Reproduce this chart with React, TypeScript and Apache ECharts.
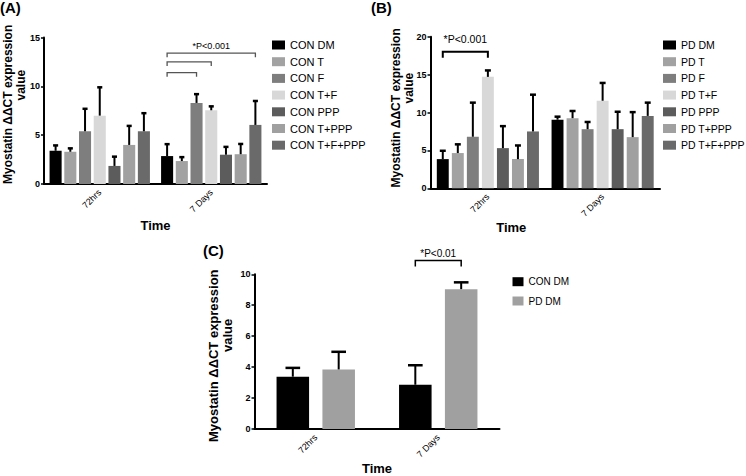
import React, { useEffect, useRef } from "react";
import * as echarts from "echarts";

const categories = ["72hrs", "7 Days"];

const namesA = ["CON DM", "CON T", "CON F", "CON T+F", "CON PPP", "CON T+PPP", "CON T+F+PPP"];
const meanA = [
  [3.4, 2.86],
  [3.3, 2.35],
  [5.4, 8.3],
  [7.0, 7.55],
  [1.85, 3.0],
  [4.0, 3.05],
  [5.4, 6.05],
];
const semA = [
  [0.55, 1.22],
  [0.35, 0.4],
  [2.3, 0.9],
  [2.9, 0.4],
  [0.95, 0.8],
  [1.95, 1.05],
  [1.85, 2.45],
];

const namesB = ["PD DM", "PD T", "PD F", "PD T+F", "PD PPP", "PD T+PPP", "PD T+F+PPP"];
const meanB = [
  [3.85, 9.05],
  [4.65, 9.25],
  [6.8, 7.8],
  [14.7, 11.55],
  [5.3, 7.8],
  [3.85, 6.75],
  [7.5, 9.55],
];
const semB = [
  [1.1, 0.4],
  [1.15, 0.95],
  [4.5, 0.95],
  [0.85, 2.35],
  [2.9, 2.3],
  [1.8, 3.3],
  [4.85, 1.75],
];

const namesC = ["CON DM", "PD DM"];
const meanC = [
  [3.38, 2.86],
  [3.85, 9.04],
];
const semC = [
  [0.57, 1.26],
  [1.14, 0.44],
];

const bracketsA = [
  { cat: 1, from: 0, to: 2, level: 11.4, label: "" },
  { cat: 1, from: 0, to: 3, level: 12.5, label: "" },
  { cat: 1, from: 0, to: 6, level: 13.4, label: "*P<0.001" },
];
const bracketsB = [{ cat: 0, from: 0, to: 3, level: 18.0, label: "*P<0.001" }];
const bracketsC = [{ cat: 1, from: 0, to: 1, level: 10.9, label: "*P<0.01" }];

const yMaxA = 15, yIntA = 5;
const yMaxB = 20, yIntB = 5;
const yMaxC = 10, yIntC = 2;

const yTitleLine1 = "Myostatin \u0394\u0394CT expression";
const yTitleLine2 = "value";

const greys7 = ["#000000", "#a2a2a2", "#7e7e7e", "#d8d8d8", "#5c5c5c", "#a0a0a0", "#6a6a6a"];
const greysC = ["#000000", "#a0a0a0"];

const FONT = "Liberation Sans, Arial, Helvetica, sans-serif";

type Layout = { catGap: number; gap: number; n: number };
const layA: Layout = { catGap: 0.1, gap: 0.22, n: 7 };
const layB: Layout = { catGap: 0.11, gap: 0.26, n: 7 };
const layC: Layout = { catGap: 0.36, gap: 0.41, n: 2 };

function barPos(api: any, cat: number, idx: number, lay: Layout) {
  const band = api.size([1, 0])[0];
  const bw = (band * (1 - lay.catGap)) / (lay.n + (lay.n - 1) * lay.gap);
  const total = lay.n * bw + (lay.n - 1) * lay.gap * bw;
  const c = api.coord([cat, 0])[0];
  return { x: c - total / 2 + bw / 2 + idx * bw * (1 + lay.gap), bw };
}

function errorSeries(axis: number, means: number[][], sems: number[][], lay: Layout, capFrac: number, lw: number) {
  const data: number[][] = [];
  means.forEach((row, i) =>
    row.forEach((m, j) => {
      data.push([j, m, m + sems[i][j], i]);
    })
  );
  return {
    type: "custom",
    xAxisIndex: axis,
    yAxisIndex: axis,
    z: 5,
    silent: true,
    data,
    encode: { x: 0, y: [1, 2] },
    renderItem: (params: any, api: any) => {
      const cat = api.value(0);
      const m = api.value(1);
      const top = api.value(2);
      const idx = api.value(3);
      const { x, bw } = barPos(api, cat, idx, lay);
      const y0 = api.coord([cat, m])[1];
      const y1 = api.coord([cat, top])[1];
      const cw = bw * capFrac;
      return {
        type: "group",
        children: [
          { type: "line", shape: { x1: x, y1: y0, x2: x, y2: y1 }, style: { stroke: "#000", lineWidth: lw } },
          { type: "line", shape: { x1: x - cw / 2, y1: y1, x2: x + cw / 2, y2: y1 }, style: { stroke: "#000", lineWidth: lw + 0.5 } },
        ],
      };
    },
  };
}

function bracketSeries(axis: number, brs: any[], lay: Layout, color: string, lw: number, leg: number, fontSize: number, textGap: number) {
  return {
    type: "custom",
    xAxisIndex: axis,
    yAxisIndex: axis,
    z: 6,
    silent: true,
    clip: false,
    data: brs.map((b) => [b.cat, b.level]),
    encode: { x: 0, y: 1 },
    renderItem: (params: any, api: any) => {
      const b = brs[params.dataIndex];
      const x1 = barPos(api, b.cat, b.from, lay).x;
      const x2 = barPos(api, b.cat, b.to, lay).x;
      const y = api.coord([b.cat, b.level])[1];
      const children: any[] = [
        {
          type: "polyline",
          shape: { points: [[x1, y + leg], [x1, y], [x2, y], [x2, y + leg]] },
          style: { stroke: color, lineWidth: lw, fill: null },
        },
      ];
      if (b.label) {
        children.push({
          type: "text",
          x: (x1 + x2) / 2,
          y: y - textGap,
          style: { text: b.label, fill: "#000", fontSize, fontFamily: FONT, align: "center", verticalAlign: "bottom" },
        });
      }
      return { type: "group", children };
    },
  };
}

function barSeries(axis: number, names: string[], means: number[][], colors: string[], lay: Layout) {
  return names.map((name, i) => ({
    type: "bar",
    name,
    xAxisIndex: axis,
    yAxisIndex: axis,
    data: means[i],
    barGap: `${lay.gap * 100}%`,
    barCategoryGap: `${lay.catGap * 100}%`,
    itemStyle: { color: colors[i] },
    silent: true,
  }));
}

function xAxis(grid: number, nameGap: number, namePad: number[]) {
  return {
    type: "category",
    gridIndex: grid,
    data: categories,
    name: "Time",
    nameLocation: "middle",
    nameGap,
    nameTextStyle: { fontSize: 13, fontWeight: "bold", color: "#000", fontFamily: FONT, padding: namePad },
    axisLine: { lineStyle: { color: "#000", width: 2 } },
    axisTick: { alignWithLabel: true, length: 3, lineStyle: { color: "#000", width: 1.5 } },
    axisLabel: { rotate: 45, fontSize: 9, color: "#000", fontFamily: FONT, margin: 7 },
  };
}

function yAxis(grid: number, max: number, interval: number) {
  return {
    type: "value",
    gridIndex: grid,
    min: 0,
    max,
    interval,
    axisLine: { show: true, lineStyle: { color: "#000", width: 2 } },
    axisTick: { show: true, length: 3, lineStyle: { color: "#000", width: 1.5 } },
    axisLabel: { fontSize: 9, fontWeight: "bold", color: "#000", fontFamily: FONT, margin: 4 },
    splitLine: { show: false },
  };
}

function legend(left: number, top: number, names: string[], colors: string[], iw: number, ih: number, gap: number, fs: number) {
  return {
    orient: "vertical",
    left,
    top,
    padding: 0,
    itemWidth: iw,
    itemHeight: ih,
    itemGap: gap,
    icon: "rect",
    selectedMode: false,
    textStyle: { fontSize: fs, color: "#000", fontFamily: FONT, lineHeight: 12 },
    data: names.map((n, i) => ({ name: n, itemStyle: { color: colors[i] } })),
  };
}

// each line starts at its bottom end (text reads upward)
function yTitle(x1: number, yStart1: number, x2: number, yStart2: number, fs: number) {
  const st = { fontSize: fs, fontWeight: "bold", fill: "#000", fontFamily: FONT, align: "left", verticalAlign: "middle" };
  return [
    { type: "text", x: x1, y: yStart1, rotation: Math.PI / 2, style: { ...st, text: yTitleLine1 } },
    { type: "text", x: x2, y: yStart2, rotation: Math.PI / 2, style: { ...st, text: yTitleLine2 } },
  ];
}

export default function App() {
  const ref = useRef<HTMLDivElement>(null);
  useEffect(() => {
    if (!ref.current) return;
    const chart = echarts.init(ref.current, undefined, { renderer: "svg" });
    const option: any = {
      animation: false,
      backgroundColor: "#ffffff",
      textStyle: { fontFamily: FONT },
      grid: [
        { left: 44, top: 37.5, width: 223, height: 146.5 },
        { left: 430.5, top: 36.7, width: 229.5, height: 151.6 },
        { left: 254.5, top: 274.3, width: 245, height: 163 },
      ],
      xAxis: [xAxis(0, 35, [0, 0, 0, 0]), xAxis(1, 30, [0, 68, 0, 0]), xAxis(2, 28, [0, 0, 0, 0])],
      yAxis: [yAxis(0, yMaxA, yIntA), yAxis(1, yMaxB, yIntB), yAxis(2, yMaxC, yIntC)],
      legend: [
        legend(272, 39, namesA, greys7, 13, 9, 4.7, 11),
        legend(663, 39, namesB, greys7, 13, 9, 4.7, 10.5),
        legend(512.5, 275.7, namesC, greysC, 11, 9, 7.3, 10),
      ],
      graphic: [
        { type: "text", left: 0, top: 0, style: { text: "(A)", fontSize: 15, fontWeight: "bold", fill: "#000", fontFamily: FONT } },
        { type: "text", left: 371, top: 0, style: { text: "(B)", fontSize: 15, fontWeight: "bold", fill: "#000", fontFamily: FONT } },
        { type: "text", left: 203, top: 243, style: { text: "(C)", fontSize: 15, fontWeight: "bold", fill: "#000", fontFamily: FONT } },
        ...yTitle(7.5, 184, 21, 100.5, 12),
        ...yTitle(395.5, 187.5, 408.5, 103.5, 12),
        ...yTitle(213, 442, 227.5, 352, 13),
      ],
      series: [
        ...barSeries(0, namesA, meanA, greys7, layA),
        ...barSeries(1, namesB, meanB, greys7, layB),
        ...barSeries(2, namesC, meanC, greysC, layC),
        errorSeries(0, meanA, semA, layA, 0.42, 2),
        errorSeries(1, meanB, semB, layB, 0.5, 2),
        errorSeries(2, meanC, semC, layC, 0.45, 2),
        bracketSeries(0, bracketsA, layA, "#555", 1.3, 4, 9, 3),
        bracketSeries(1, bracketsB, layB, "#000", 2, 6, 10.5, 7),
        bracketSeries(2, bracketsC, layC, "#000", 1.5, 6, 10, 2),
      ],
    };
    chart.setOption(option);
    return () => chart.dispose();
  }, []);
  return <div ref={ref} style={{ position: "fixed", left: 0, top: 0, width: 746, height: 476 }} />;
}
